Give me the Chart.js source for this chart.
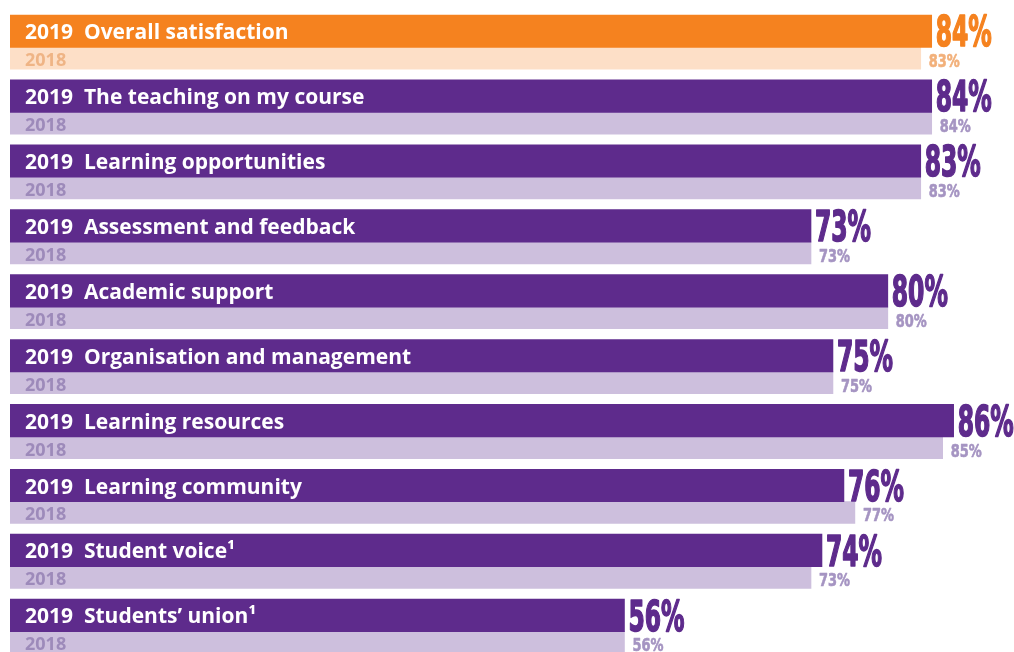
<!DOCTYPE html>
<html>
<head>
<meta charset="utf-8">
<title>Satisfaction 2019 vs 2018</title>
<script src="https://cdn.jsdelivr.net/npm/chart.js@4.4.1/dist/chart.umd.min.js"></script>
<style>
    html, body { margin: 0; padding: 0; background: #ffffff; }
    #wrap { width: 1014px; height: 652px; }
</style>
</head>
<body>
<div id="wrap"><canvas id="satChart"></canvas></div>
<script>
const categories = [
    "Overall satisfaction",
    "The teaching on my course",
    "Learning opportunities",
    "Assessment and feedback",
    "Academic support",
    "Organisation and management",
    "Learning resources",
    "Learning community",
    "Student voice¹",
    "Students’ union¹"
];
const years = ["2019", "2018"];
const values2019 = [84, 84, 83, 73, 80, 75, 86, 76, 74, 56];
const values2018 = [83, 84, 83, 73, 80, 75, 85, 77, 73, 56];

// first row is the headline measure, drawn in orange
const colours = {
    main:  { bar19: "#f5821f", bar18: "#fddfc7", text18: "#efb485", val19: "#f5821f", val18: "#f2b07a" },
    other: { bar19: "#5e2b8c", bar18: "#cdbfdd", text18: "#9d8aba", val19: "#5e2b8c", val18: "#a594c2" }
};
const pick = i => i === 0 ? colours.main : colours.other;

// condensed, heavy figures for the percentages
function drawSqueezed(ctx, text, x, y, size, squeeze, weight) {
    ctx.save();
    ctx.translate(x, y);
    ctx.scale(squeeze, 1);
    ctx.font = `bold ${size}px "DejaVu Sans Condensed", "DejaVu Sans", sans-serif`;
    ctx.fillText(text, 0, 0);
    ctx.strokeStyle = ctx.fillStyle;
    ctx.lineWidth = weight;
    ctx.lineJoin = "round";
    ctx.strokeText(text, 0, 0);
    ctx.restore();
}

const barText = {
    id: "barText",
    afterDatasetsDraw(chart) {
        const ctx = chart.ctx;
        const bars19 = chart.getDatasetMeta(0).data;
        const bars18 = chart.getDatasetMeta(1).data;
        const left = chart.scales.x.getPixelForValue(0);
        ctx.save();
        ctx.textBaseline = "alphabetic";
        ctx.textAlign = "left";

        bars19.forEach((bar, i) => {
            const bottom = bar.y + bar.height / 2;
            ctx.fillStyle = "#ffffff";
            ctx.font = 'bold 21px "Open Sans", sans-serif';
            ctx.fillText(years[0] + "  " + categories[i], left + 15, bar.y + 8);
            ctx.fillStyle = pick(i).val19;
            drawSqueezed(ctx, values2019[i] + "%", bar.x + 4, bottom - 1, 42, 0.62, 1.6);
        });

        bars18.forEach((bar, i) => {
            const bottom = bar.y + bar.height / 2;
            ctx.fillStyle = pick(i).text18;
            ctx.font = 'bold 18px "Open Sans", sans-serif';
            ctx.fillText(years[1], left + 15, bottom - 3);
            ctx.fillStyle = pick(i).val18;
            drawSqueezed(ctx, values2018[i] + "%", bar.x + 8, bottom - 2, 18, 0.8, 0.6);
        });
        ctx.restore();
    }
};

const ctx = document.getElementById("satChart").getContext("2d");
new Chart(ctx, {
    type: "bar",
    data: {
        datasets: [{
            label: years[0],
            data: values2019.map((v, i) => ({ x: v, y: i })),
            yAxisID: "y",
            backgroundColor: c => pick(c.dataIndex).bar19,
            barThickness: 32.5,
            maxBarThickness: 32.5
        }, {
            label: years[1],
            data: values2018.map((v, i) => ({ x: v, y: i })),
            yAxisID: "y2",
            backgroundColor: c => pick(c.dataIndex).bar18,
            barThickness: 22,
            maxBarThickness: 22
        }]
    },
    options: {
        indexAxis: "y",
        responsive: true,
        maintainAspectRatio: false,
        animation: false,
        grouped: false,
        barPercentage: 1,
        categoryPercentage: 1,
        layout: { padding: { left: 10, right: 0, top: 0, bottom: 0 } },
        plugins: { legend: { display: false }, tooltip: { enabled: false } },
        scales: {
            x: { type: "linear", min: 0, max: 91.5, display: false },
            // 2019 rows
            y: { type: "linear", offset: false, min: -0.4815, max: 9.565, reverse: true, display: false },
            // 2018 rows sit just under the 2019 rows
            y2: { type: "linear", offset: false, min: -0.8965, max: 9.15, reverse: true, display: false }
        }
    },
    plugins: [barText]
});
</script>
</body>
</html>
